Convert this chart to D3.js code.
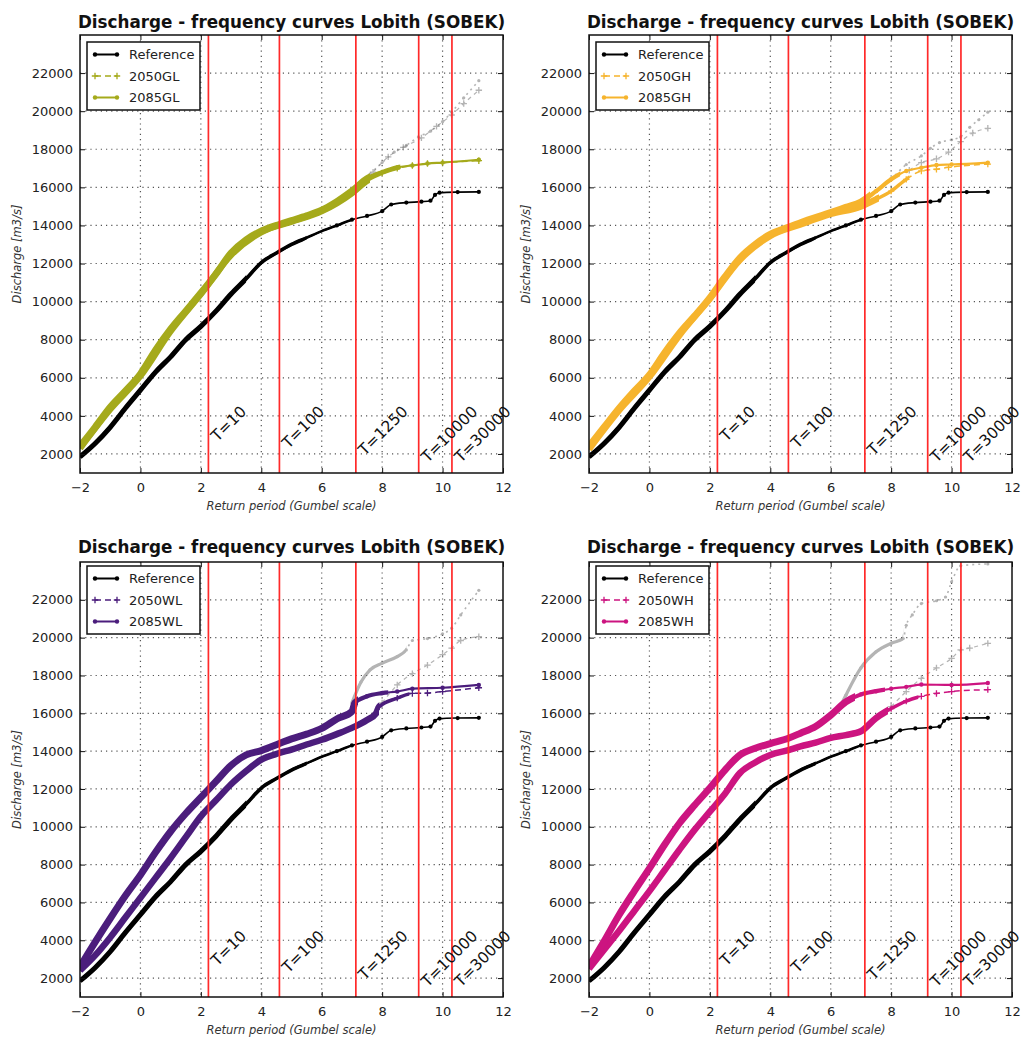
<!DOCTYPE html>
<html>
<head>
<meta charset="utf-8">
<script src="https://cdn.jsdelivr.net/npm/d3@7"></script>
<style>
  body { margin: 0; background: #fff; }
  svg { display: block; }
  text { font-family: "DejaVu Sans", sans-serif; }
</style>
</head>
<body>
<svg id="chart" width="1023" height="1038"></svg>
<script>
// axis ticks
var xTicks = [-2, 0, 2, 4, 6, 8, 10, 12];
var yTicks = [2000, 4000, 6000, 8000, 10000, 12000, 14000, 16000, 18000, 20000, 22000];

// return periods on the Gumbel axis
var returnX = [2.25, 4.60, 7.13, 9.21, 10.31];
var returnLabels = ["T=10", "T=100", "T=1250", "T=10000", "T=30000"];

// reference curve (same in all four panels)
var reference = [[-2,1850],[-1.5,2550],[-1,3400],[-0.5,4400],[0,5350],[0.5,6300],[1,7100],[1.5,8000],
  [2,8700],[2.5,9500],[3,10400],[3.5,11200],[4,12050],[4.5,12550],[5,13000],[5.5,13350],[6,13700],
  [6.5,14000],[7,14300],[7.5,14500],[8,14750],[8.3,15100],[8.8,15200],[9.3,15250],[9.6,15300],
  [9.75,15600],[9.9,15720],[10.5,15750],[11.2,15760]];

// GL scenario
var gl2050 = [[-2,2300],[-1,4350],[0,6100],[1,8450],[2,10400],[3,12450],[4,13650],[5,14200],[6,14750],
  [7,15700],[7.5,16350],[8,16750],[8.5,17000],[9,17150],[9.5,17250],[10,17300],[11.2,17400]];
var gl2085 = [[-2,2400],[-1.5,3400],[-1,4450],[-0.5,5300],[0,6200],[0.5,7450],[1,8550],[1.5,9500],
  [2,10450],[2.5,11450],[3,12550],[3.5,13250],[4,13700],[4.6,14050],[5,14250],[5.5,14500],[6,14800],
  [6.5,15250],[7,15800],[7.5,16450],[8,16800],[8.5,17050],[9,17150],[9.5,17250],[10,17300],[11.2,17450]];
var glGreyA = [[7.6,16700],[8,17300],[8.4,17850],[8.8,18200],[9.2,18650],[9.6,18950],[10,19450],
  [10.3,19950],[10.7,20700],[11.2,21600]];
var glGreyB = [[7.7,16800],[8.2,17600],[8.7,18100],[9.3,18600],[9.8,19200],[10.3,19800],[10.7,20400],[11.2,21100]];

// GH scenario
var gh2050 = [[-2,2250],[-1,4300],[0,6050],[1,8250],[2,10150],[3,12200],[4,13450],[5,14050],[6,14600],
  [7,15000],[7.5,15370],[8,15800],[8.5,16420],[9,16860],[9.5,16950],[9.9,17050],[11.2,17220]];
var gh2085 = [[-2,2400],[-1.5,3400],[-1,4400],[-0.5,5300],[0,6150],[0.5,7300],[1,8350],[1.5,9250],
  [2,10200],[2.5,11300],[3,12300],[3.5,13000],[4,13530],[4.6,13900],[5,14140],[6,14670],[6.5,14950],
  [7,15230],[7.5,15800],[8,16420],[8.5,16860],[9,17030],[9.5,17170],[10,17200],[11.2,17300]];
var ghGreyA = [[8,16400],[8.5,17200],[9,17650],[9.3,18050],[9.6,18350],[10,18500],[10.3,18650],
  [10.6,19150],[10.9,19550],[11.2,19950]];
var ghGreyB = [[8.6,16900],[9,17300],[9.5,17500],[9.9,17850],[10.3,18400],[10.7,18850],[11.2,19100]];

// WL scenario
var wl2050 = [[-2,2400],[-1.5,3200],[-1,4150],[-0.5,5200],[0,6250],[0.5,7300],[1,8350],[1.5,9450],
  [2,10550],[2.5,11400],[3,12250],[3.5,12950],[4,13550],[4.6,13900],[5,14080],[5.5,14350],[6,14600],
  [6.5,14900],[7,15230],[7.5,15650],[7.8,16000],[7.9,16350],[8.5,16800],[9,17050],[9.5,17070],
  [10,17150],[11.2,17350]];
var wl2085 = [[-2,2600],[-1.5,3900],[-1,5150],[-0.5,6350],[0,7450],[0.5,8650],[1,9750],[1.5,10700],
  [2,11550],[2.5,12400],[3,13250],[3.5,13800],[4,14030],[4.6,14400],[5,14650],[5.5,14900],[6,15200],
  [6.5,15700],[7,16100],[7.1,16550],[7.5,16900],[8,17070],[8.5,17150],[9,17300],[10,17350],[11.2,17500]];
var wlGreyA = [[7,16550],[7.3,17650],[7.6,18300],[8,18650],[8.5,19000],[8.8,19350],[9,19850],
  [9.5,19950],[10,20200],[10.3,20500],[10.6,21200],[11.2,22500]];
var wlGreyB = [[8,16550],[8.5,17500],[9,18100],[9.5,18550],[10,19100],[10.3,19450],[10.6,19850],[11.2,20050]];

// WH scenario
var wh2050 = [[-2,2500],[-1.5,3500],[-1,4500],[-0.5,5550],[0,6600],[0.5,7700],[1,8800],[1.5,9850],
  [2,10800],[2.5,11750],[3,12850],[3.5,13400],[4,13800],[4.6,14050],[5,14250],[5.5,14450],[6,14700],
  [6.5,14850],[7,15050],[7.5,15750],[8,16250],[8.5,16650],[9,16900],[9.5,17050],[10,17150],[11.2,17250]];
var wh2085 = [[-2,2600],[-1.5,3950],[-1,5350],[-0.5,6600],[0,7800],[0.5,9050],[1,10200],[1.5,11150],
  [2,12050],[2.5,13000],[3,13800],[3.5,14150],[4,14400],[4.6,14680],[5,14950],[5.5,15300],[6,15900],
  [6.5,16600],[7,17000],[7.5,17170],[8,17300],[8.5,17400],[9,17520],[10,17500],[11.2,17600]];
var whGreyA = [[6.3,16300],[6.5,16950],[7,18400],[7.5,19250],[8,19700],[8.4,19950],[8.5,20650],
  [8.7,21200],[9,21800],[9.5,21950],[9.8,22150],[10,22950],[10.3,23800],[11.2,23900]];
var whGreyB = [[8,16350],[8.5,17150],[9,17850],[9.5,18400],[10,18900],[10.3,19350],[10.6,19450],[11.2,19700]];

var panels = [
  {name: "GL", color: "#a5aa1b", s50: gl2050, s85: gl2085, gA: glGreyA, gB: glGreyB,
   left: 80, right: 503, top: 35, bottom: 473, titleY: 28, legY: 42, dense85: 7.6, dense50: 7.6, greyDense: 0},
  {name: "GH", color: "#f6b42d", s50: gh2050, s85: gh2085, gA: ghGreyA, gB: ghGreyB,
   left: 589, right: 1012, top: 35, bottom: 473, titleY: 28, legY: 42, dense85: 7.3, dense50: 7.6, greyDense: 0},
  {name: "WL", color: "#4b1d7c", s50: wl2050, s85: wl2085, gA: wlGreyA, gB: wlGreyB,
   left: 80, right: 503, top: 562, bottom: 997, titleY: 553, legY: 566, dense85: 7.2, dense50: 7.9, greyDense: 8.8},
  {name: "WH", color: "#cc1480", s50: wh2050, s85: wh2085, gA: whGreyA, gB: whGreyB,
   left: 589, right: 1012, top: 562, bottom: 997, titleY: 553, legY: 566, dense85: 6.8, dense50: 7.9, greyDense: 8.4}
];

var svg = d3.select("#chart");
var defs = svg.append("defs");
var uid = 0;
var plusPath = "M-3.2,0H3.2M0,-3.2V3.2";

function fmt(d) { return d < 0 ? "\u2212" + (-d) : String(d); }

// draw one curve: thin base line, thicker bands where the markers are dense, markers in the tail
function drawCurve(p, g, data, st) {
  var line = d3.line()
      .x(function(d) { return p.x(d[0]); })
      .y(function(d) { return p.y(d[1]); })
      .curve(d3.curveMonotoneX);
  var cg = g.append("g").attr("opacity", st.opacity || 1);
  cg.append("path")
      .attr("d", line(data))
      .attr("fill", "none")
      .attr("stroke", st.color)
      .attr("stroke-width", st.base)
      .attr("stroke-dasharray", st.dash || null);
  st.bands.forEach(function(b) {
    var id = "band" + (uid++);
    defs.append("clipPath").attr("id", id).append("rect")
        .attr("x", p.left - 10).attr("y", p.top)
        .attr("width", p.x(b[0]) - p.left + 10).attr("height", p.bottom - p.top);
    cg.append("path")
        .attr("d", line(data))
        .attr("clip-path", "url(#" + id + ")")
        .attr("fill", "none")
        .attr("stroke", st.color)
        .attr("stroke-width", b[1])
        .attr("stroke-linejoin", "round");
  });
  var tail = data.filter(function(d) { return d[0] >= st.markFrom; });
  if (st.marker == "plus") {
    cg.selectAll(".pm").data(tail).join("path")
        .attr("transform", function(d) { return "translate(" + p.x(d[0]) + "," + p.y(d[1]) + ")"; })
        .attr("d", plusPath)
        .attr("stroke", st.color)
        .attr("stroke-width", 1.3);
  } else {
    cg.selectAll(".dm").data(tail).join("circle")
        .attr("cx", function(d) { return p.x(d[0]); })
        .attr("cy", function(d) { return p.y(d[1]); })
        .attr("r", st.r || 2.2)
        .attr("fill", st.color);
  }
}

panels.forEach(function(p) {
  p.x = d3.scaleLinear().domain([-2, 12]).range([p.left, p.right]);
  p.y = d3.scaleLinear().domain([1000, 24000]).range([p.bottom, p.top]);
  var w = p.right - p.left, h = p.bottom - p.top;
  var g = svg.append("g");

  var clipId = "plot" + (uid++);
  defs.append("clipPath").attr("id", clipId).append("rect")
      .attr("x", p.left).attr("y", p.top).attr("width", w).attr("height", h);

  // dotted grid
  var grid = g.append("g").attr("stroke", "#555").attr("stroke-width", 1.2).attr("stroke-dasharray", "1.2,4");
  grid.selectAll(".gx").data(xTicks.slice(1, -1)).join("line")
      .attr("x1", function(d) { return p.x(d); }).attr("x2", function(d) { return p.x(d); })
      .attr("y1", p.top).attr("y2", p.bottom);
  grid.selectAll(".gy").data(yTicks).join("line")
      .attr("x1", p.left).attr("x2", p.right)
      .attr("y1", function(d) { return p.y(d); }).attr("y2", function(d) { return p.y(d); });

  var plot = g.append("g").attr("clip-path", "url(#" + clipId + ")");

  // uncapped (grey) curves
  drawCurve(p, plot, p.gA, {color: "#777", base: 1.6, dash: "2,4", opacity: 0.55, markFrom: -99, r: 1.6,
    bands: p.greyDense ? [[p.greyDense, 3.2]] : []});
  drawCurve(p, plot, p.gB, {color: "#777", base: 1.2, dash: "4,4", opacity: 0.55, markFrom: -99, marker: "plus",
    bands: []});

  // scenario curves
  drawCurve(p, plot, p.s50, {color: p.color, base: 1.5, dash: "6,4", markFrom: p.dense50, marker: "plus",
    bands: [[p.dense50 + 1, 3.5], [p.dense50, 6.5]]});
  drawCurve(p, plot, p.s85, {color: p.color, base: 2.2, markFrom: p.dense85, r: 2.2,
    bands: [[p.dense85 + 1, 4.2], [p.dense85, 7]]});

  // reference
  drawCurve(p, plot, reference, {color: "#000", base: 1.6, markFrom: 6.5, r: 2.1,
    bands: [[7, 2.6], [5.5, 3.6], [3.5, 5]]});

  // return-period lines
  g.selectAll(".rl").data(returnX).join("line")
      .attr("x1", function(d) { return p.x(d); }).attr("x2", function(d) { return p.x(d); })
      .attr("y1", p.top).attr("y2", p.bottom)
      .attr("stroke", "#ff2a2a").attr("stroke-width", 1.7);

  // return-period labels, rotated 45 degrees, top of the box at a fixed discharge
  var s = Math.SQRT1_2, asc = 0.73 * 15.5;
  returnX.forEach(function(rx, i) {
    var t = g.append("text")
        .attr("font-size", 15.5)
        .attr("fill", "#111")
        .text(returnLabels[i]);
    var L = t.node().getComputedTextLength();
    var x0 = p.x(rx) + 1 + asc * s;
    var y0 = p.y(4600) + (L + asc) * s;
    t.attr("transform", "translate(" + x0 + "," + y0 + ") rotate(-45)");
  });

  // frame
  g.append("rect")
      .attr("x", p.left).attr("y", p.top).attr("width", w).attr("height", h)
      .attr("fill", "none").attr("stroke", "#111").attr("stroke-width", 1.5);

  // axes with inward ticks
  g.append("g").attr("transform", "translate(0," + p.bottom + ")")
      .call(d3.axisBottom(p.x).tickValues(xTicks).tickFormat(fmt).tickSize(-5).tickPadding(10));
  g.append("g").attr("transform", "translate(" + p.left + ",0)")
      .call(d3.axisLeft(p.y).tickValues(yTicks).tickFormat(fmt).tickSize(-5).tickPadding(7));
  g.append("g").attr("transform", "translate(0," + p.top + ")")
      .call(d3.axisTop(p.x).tickValues(xTicks).tickSize(-5).tickFormat(""));
  g.append("g").attr("transform", "translate(" + p.right + ",0)")
      .call(d3.axisRight(p.y).tickValues(yTicks).tickSize(-5).tickFormat(""));
  g.selectAll(".domain").remove();
  g.selectAll(".tick line").attr("stroke", "#111");
  g.selectAll(".tick text").attr("font-size", 13).attr("fill", "#222")
      .attr("font-family", "DejaVu Sans, sans-serif");

  // titles
  g.append("text")
      .attr("x", (p.left + p.right) / 2).attr("y", p.titleY)
      .attr("text-anchor", "middle")
      .attr("font-size", 16.8).attr("font-weight", "bold").attr("fill", "#111")
      .text("Discharge - frequency curves Lobith (SOBEK)");
  g.append("text")
      .attr("x", (p.left + p.right) / 2).attr("y", p.bottom + 37)
      .attr("text-anchor", "middle")
      .attr("font-size", 11.5).attr("font-style", "italic").attr("fill", "#333")
      .text("Return period (Gumbel scale)");
  g.append("text")
      .attr("transform", "translate(" + (p.left - 59) + "," + ((p.top + p.bottom) / 2) + ") rotate(-90)")
      .attr("text-anchor", "middle")
      .attr("font-size", 11.5).attr("font-style", "italic").attr("fill", "#333")
      .text("Discharge [m3/s]");

  // legend
  var lx = p.left + 7, ly = p.legY;
  var leg = g.append("g");
  leg.append("rect")
      .attr("x", lx).attr("y", ly).attr("width", 113).attr("height", 68)
      .attr("fill", "#fff").attr("stroke", "#111").attr("stroke-width", 1.5);
  var items = [
    {label: "Reference", color: "#000", dash: null, marker: "dot"},
    {label: "2050" + p.name, color: p.color, dash: "6,4", marker: "plus"},
    {label: "2085" + p.name, color: p.color, dash: null, marker: "dot"}
  ];
  items.forEach(function(it, i) {
    var yy = ly + 12.5 + i * 21.5;
    var x1 = lx + 8, x2 = lx + 30;
    leg.append("line").attr("x1", x1).attr("x2", x2).attr("y1", yy).attr("y2", yy)
        .attr("stroke", it.color).attr("stroke-width", it.marker == "plus" ? 1.5 : 2)
        .attr("stroke-dasharray", it.dash);
    [x1, x2].forEach(function(mx) {
      if (it.marker == "plus") {
        leg.append("path").attr("transform", "translate(" + mx + "," + yy + ")")
            .attr("d", plusPath).attr("stroke", it.color).attr("stroke-width", 1.3);
      } else {
        leg.append("circle").attr("cx", mx).attr("cy", yy).attr("r", 2.2).attr("fill", it.color);
      }
    });
    leg.append("text").attr("x", lx + 42).attr("y", yy + 4.8)
        .attr("font-size", 13).attr("fill", "#222").text(it.label);
  });
});
</script>
</body>
</html>
